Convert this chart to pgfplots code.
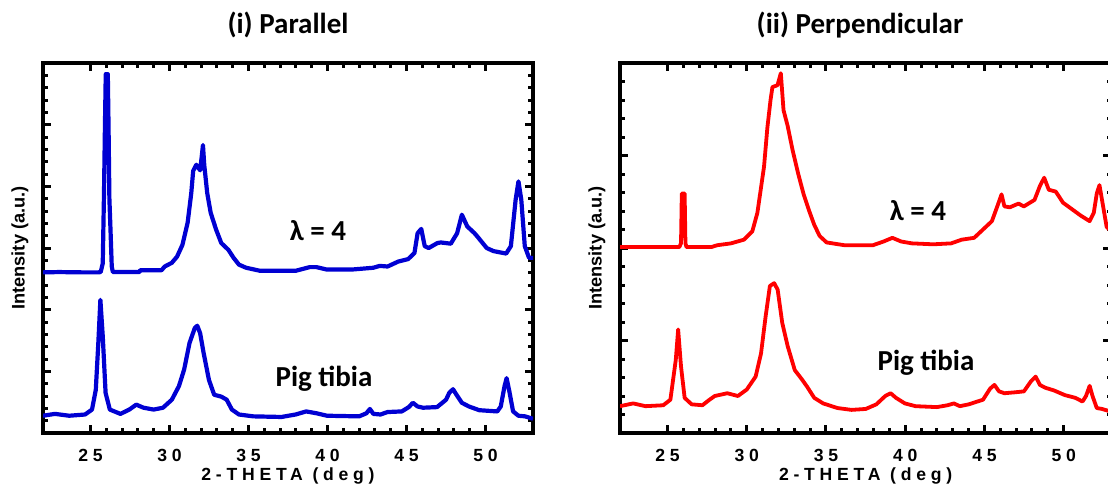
\documentclass[border=0pt]{standalone}
\usepackage{fontspec}
\setmainfont{Carlito}
\newfontfamily\arialsp[LetterSpace=27]{Liberation Sans}
\newfontfamily\arial{Liberation Sans}
\usepackage{pgfplots}
\pgfplotsset{compat=1.18}
\definecolor{cblue}{RGB}{0,0,210}
\definecolor{cred}{RGB}{255,0,0}

\pgfplotsset{xrdax/.style={
  scale only axis, width=245pt, height=185pt,
  xmin=22, xmax=53, ymin=0,
  xtick={25,30,...,50}, minor x tick num=4,
  minor y tick num=4,
  yticklabels={},
  tick align=inside,
  every axis/.append style={line width=1.9pt},
  axis line style={line width=1.9pt},
  tick style={black, line width=1.5pt},
  major tick length=4pt, minor tick length=2.3pt,
  /pgf/number format/assume math mode=true,
  xticklabel style={font=\arialsp\bfseries\fontsize{8.8}{10}\selectfont, yshift=-4pt},
  xlabel={2-THETA (deg)},
  xlabel style={font=\arialsp\bfseries\fontsize{8.8}{10}\selectfont, at={(axis description cs:0.5,-0.115)}, anchor=center},
  ylabel={Intensity (a.u.)},
  ylabel style={font=\arial\bfseries\fontsize{9.1}{10}\selectfont, at={(axis description cs:-0.047,0.5)}, anchor=center},
}}

\begin{document}
\begin{tikzpicture}
\useasboundingbox (0,0) rectangle (554pt,244.5pt);
\begin{axis}[xrdax, at={(21.5pt,28pt)}, anchor=south west, ymax=6, ytick={0,...,6}]
% lambda = 4 (parallel)
\addplot[cblue, line width=2.1pt, line join=round] coordinates {
(22.0,2.605) (23.0,2.61) (24.5,2.605) (25.5,2.605) (25.65,2.61) (25.78,2.75) (25.86,3.9) (25.92,5.0) (25.97,5.82)
(26.1,5.82) (26.15,4.9) (26.2,3.8) (26.27,3.3) (26.35,2.7) (26.42,2.61) (27.5,2.61) (28.1,2.61) (28.15,2.64)
(29.5,2.64) (29.7,2.70) (30.15,2.76) (30.48,2.86) (30.82,3.05) (31.15,3.41) (31.38,3.89) (31.5,4.25) (31.7,4.35)
(31.94,4.26) (32.05,4.5) (32.12,4.67) (32.2,4.35) (32.39,3.89) (32.61,3.57) (32.95,3.30) (33.28,3.08)
(33.73,2.97) (34.06,2.84) (34.4,2.73) (34.85,2.68) (35.74,2.63) (37.98,2.63) (38.87,2.69) (39.3,2.69)
(39.97,2.65) (41.5,2.65) (42.9,2.68) (43.3,2.71) (43.8,2.70) (44.47,2.78) (45.1,2.82) (45.5,2.92) (45.7,3.24)
(45.93,3.31) (46.15,3.03) (46.4,3.0) (46.95,3.08) (47.17,3.09) (47.8,3.07) (48.2,3.24) (48.5,3.54)
(48.84,3.35) (49.3,3.24) (49.5,3.18) (50.07,3.0) (50.5,2.95) (51.3,2.91) (51.6,3.03) (51.9,3.78) (52.08,4.08)
(52.26,3.78) (52.48,3.03) (52.75,2.84) (53.0,2.84)};
% pig tibia
\addplot[cblue, line width=2.1pt, line join=round] coordinates {
(22.0,0.28) (22.76,0.31) (23.66,0.28) (24.66,0.30) (25.1,0.38) (25.34,0.70) (25.5,1.46) (25.63,2.16)
(25.78,1.57) (25.96,0.65) (26.23,0.38) (26.9,0.31) (27.46,0.38) (27.9,0.46) (28.36,0.41) (29.0,0.38)
(29.59,0.41) (30.15,0.54) (30.6,0.76) (30.93,1.03) (31.27,1.46) (31.6,1.70) (31.76,1.74) (31.94,1.62)
(32.16,1.30) (32.5,0.86) (32.83,0.62) (33.28,0.59) (33.62,0.54) (33.95,0.38) (34.4,0.30) (35.3,0.27)
(37.09,0.26) (37.98,0.30) (38.65,0.35) (39.3,0.32) (39.97,0.28) (42.0,0.27) (42.46,0.32) (42.68,0.39)
(42.9,0.31) (43.35,0.30) (43.8,0.34) (44.7,0.35) (45.14,0.42) (45.4,0.49) (45.7,0.43) (46.04,0.41)
(46.93,0.42) (47.5,0.54) (47.7,0.65) (47.94,0.71) (48.16,0.62) (48.5,0.49) (48.95,0.43) (49.6,0.37)
(50.74,0.35) (50.96,0.43) (51.2,0.76) (51.33,0.89) (51.5,0.68) (51.74,0.35) (52.08,0.28) (52.5,0.27)
(53.0,0.23)};
\end{axis}

\begin{axis}[xrdax, at={(310pt,28pt)}, anchor=south west, width=245.6pt, ymax=4, ytick={0,...,4}]
% lambda = 4 (perpendicular)
\addplot[cred, line width=1.9pt, line join=round] coordinates {
(22.0,2.01) (25.74,2.01) (25.85,2.05) (25.9,2.59) (26.08,2.59) (26.13,2.05) (26.2,2.01) (27.76,2.01)
(28.13,2.03) (29.0,2.05) (29.82,2.09) (30.35,2.18) (30.67,2.38) (31.09,2.88) (31.3,3.3) (31.5,3.6)
(31.62,3.74) (31.94,3.76) (32.15,3.89) (32.32,3.49) (32.58,3.32) (32.89,3.06) (33.25,2.8) (33.59,2.58)
(33.92,2.41) (34.26,2.25) (34.6,2.13) (35.04,2.06) (36.17,2.03) (37.96,2.03) (38.63,2.07) (39.19,2.11)
(39.75,2.07) (40.43,2.05) (41.77,2.04) (42.9,2.05) (43.56,2.09) (44.35,2.11) (44.91,2.20) (45.47,2.29)
(45.81,2.45) (46.08,2.58) (46.26,2.45) (46.6,2.44) (47.15,2.48) (47.49,2.45) (48.16,2.52) (48.5,2.67)
(48.77,2.76) (49.06,2.63) (49.5,2.61) (49.96,2.49) (50.52,2.42) (51.08,2.35) (51.64,2.29) (51.9,2.38)
(52.09,2.59) (52.26,2.68) (52.49,2.45) (52.71,2.23) (53.0,2.18)};
% pig tibia
\addplot[cred, line width=1.9pt, line join=round] coordinates {
(22.0,0.29) (22.83,0.32) (23.61,0.29) (24.73,0.30) (25.18,0.36) (25.52,0.79) (25.67,1.12) (25.85,0.72)
(26.08,0.38) (26.52,0.31) (27.2,0.30) (27.65,0.36) (27.98,0.40) (28.77,0.43) (29.44,0.40) (30.0,0.47)
(30.56,0.61) (30.9,0.86) (31.19,1.26) (31.46,1.59) (31.73,1.62) (31.95,1.55) (32.24,1.19) (32.58,0.94)
(33.03,0.68) (33.48,0.58) (33.81,0.50) (34.26,0.38) (34.82,0.32) (35.72,0.27) (36.61,0.25) (37.51,0.26)
(38.18,0.31) (38.74,0.40) (39.08,0.43) (39.42,0.38) (39.98,0.32) (40.65,0.29) (42.0,0.28) (42.67,0.30)
(43.07,0.32) (43.45,0.29) (44.01,0.31) (44.91,0.36) (45.36,0.48) (45.63,0.52) (45.92,0.45) (46.26,0.43)
(46.93,0.44) (47.49,0.45) (47.94,0.56) (48.23,0.61) (48.5,0.52) (48.83,0.49) (49.39,0.46) (50.07,0.41)
(50.74,0.38) (51.19,0.34) (51.41,0.40) (51.64,0.51) (51.82,0.40) (52.09,0.27) (52.42,0.26) (53.0,0.23)};
\end{axis}

\node[font=\bfseries\fontsize{14.5}{17}\selectfont] at (144pt,232pt) {(i) Parallel};
\node[font=\bfseries\fontsize{14.5}{17}\selectfont] at (430pt,232pt) {(ii) Perpendicular};
\node[font=\bfseries\fontsize{14.5}{17}\selectfont, anchor=base] at (159pt,124.5pt) {λ = 4};
\node[font=\bfseries\fontsize{14.5}{17}\selectfont, anchor=base] at (162pt,51.2pt) {Pig tibia};
\node[font=\bfseries\fontsize{14.5}{17}\selectfont, anchor=base] at (459pt,134.5pt) {λ = 4};
\node[font=\bfseries\fontsize{14.5}{17}\selectfont, anchor=base] at (463pt,59.5pt) {Pig tibia};
\end{tikzpicture}
\end{document}
